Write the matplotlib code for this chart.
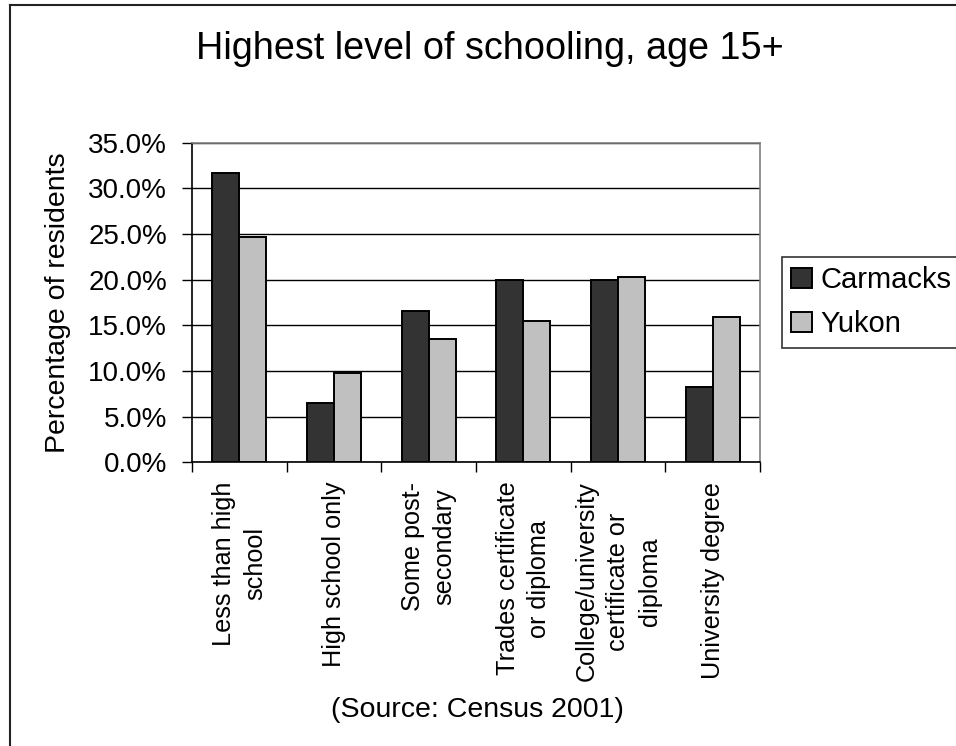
import matplotlib
matplotlib.use("Agg")
import matplotlib.pyplot as plt
from matplotlib.lines import Line2D
from matplotlib.ticker import FixedLocator, PercentFormatter
import numpy as np

plt.rcParams['font.family'] = ['Liberation Sans', 'DejaVu Sans']

categories = [
    "Less than high\nschool",
    "High school only",
    "Some post-\nsecondary",
    "Trades certificate\nor diploma",
    "College/university\ncertificate or\ndiploma",
    "University degree",
]
carmacks = [31.7, 6.5, 16.6, 20.0, 20.0, 8.3]
yukon = [24.7, 9.8, 13.5, 15.5, 20.3, 15.9]
series_names = ["Carmacks", "Yukon"]
yticks = [0, 5, 10, 15, 20, 25, 30, 35]

W, H = 956, 746
fig = plt.figure(figsize=(W / 100, H / 100), dpi=100)
fig.patch.set_facecolor("white")

ax = fig.add_axes([192 / W, 1 - 462.3 / H, 568 / W, 319.6 / H])

x = np.arange(len(categories))
bw = 0.285
ax.bar(x - bw / 2, carmacks, bw, color="#333333", edgecolor="black",
       linewidth=1.4, label=series_names[0], zorder=3)
ax.bar(x + bw / 2, yukon, bw, color="#C0C0C0", edgecolor="black",
       linewidth=1.4, label=series_names[1], zorder=3)

ax.set_xlim(-0.5, len(categories) - 0.5)
ax.set_ylim(0, 35)
ax.set_yticks(yticks)
ax.yaxis.set_major_formatter(PercentFormatter(decimals=1))
ax.grid(axis="y", color="black", linewidth=1.0, zorder=0)
ax.set_axisbelow(True)

# category boundaries get the tick marks, labels sit at the centres
ax.xaxis.set_major_locator(FixedLocator(np.arange(-0.5, len(categories), 1.0)))
ax.xaxis.set_minor_locator(FixedLocator(x))
ax.set_xticklabels([])
ax.set_xticklabels(categories, minor=True, rotation=90, ha="center",
                   va="top", multialignment="center", fontsize=18.2,
                   linespacing=1.4)
ax.tick_params(axis="x", which="major", direction="out", length=7,
               width=1.0, color="black")
ax.tick_params(axis="x", which="minor", length=0, pad=14)
ax.tick_params(axis="y", direction="out", length=7, width=1.0,
               labelsize=20, pad=11)

for side in ("left", "bottom"):
    ax.spines[side].set_color("black")
    ax.spines[side].set_linewidth(1.2)
for side in ("top", "right"):
    ax.spines[side].set_color("#808080")
    ax.spines[side].set_linewidth(1.2)

ax.set_ylabel("Percentage of residents", fontsize=20.5, labelpad=12)

fig.text(490 / W, 1 - 49 / H, "Highest level of schooling, age 15+",
         ha="center", va="center", fontsize=27.2)
fig.text(477 / W, 1 - 710 / H, "(Source: Census 2001)",
         ha="center", va="center", fontsize=20.5)

leg = fig.legend(loc="upper left", bbox_to_anchor=(782 / W, 1 - 257 / H),
                 fontsize=21, frameon=True, fancybox=False,
                 handlelength=0.7, handleheight=0.7, handletextpad=0.3,
                 borderpad=0.32, labelspacing=0.55, borderaxespad=0)
leg.get_frame().set_edgecolor("black")
leg.get_frame().set_linewidth(1.2)

# chart-area border (left and top edges)
fig.add_artist(Line2D([9.5 / W, 9.5 / W], [0, 1 - 4.5 / H], color="#222222",
                      linewidth=1.5, transform=fig.transFigure))
fig.add_artist(Line2D([9.5 / W, 1], [1 - 4.5 / H, 1 - 4.5 / H],
                      color="#222222", linewidth=1.5,
                      transform=fig.transFigure))

fig.savefig("out.png", dpi=100, facecolor="white")
